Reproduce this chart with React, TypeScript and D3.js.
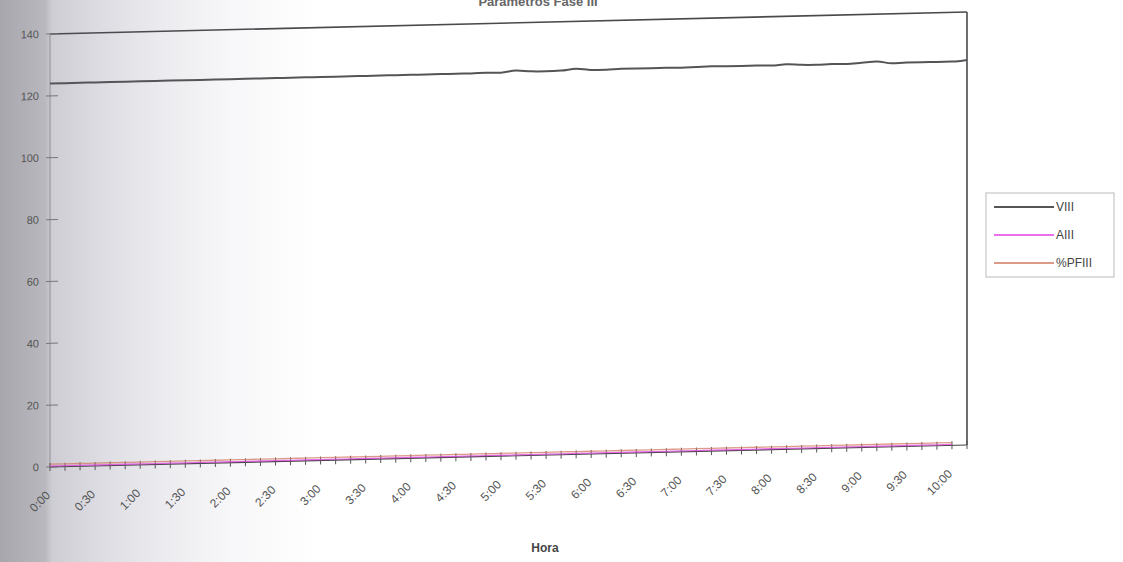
import React from "react";
import * as d3 from "d3";

const timeLabels = [
  "0:00", "0:30", "1:00", "1:30", "2:00", "2:30", "3:00", "3:30", "4:00", "4:30",
  "5:00", "5:30", "6:00", "6:30", "7:00", "7:30", "8:00", "8:30", "9:00", "9:30", "10:00",
];

// readings every 10 minutes, 0:00 .. 10:00 (61 points)
const viii = [
  124.0, 124.0, 124.0, 124.0, 124.0, 124.0, 124.0, 124.0, 124.0, 124.0, 124.0,
  124.0, 124.0, 124.0, 124.0, 124.0, 124.0, 124.0, 124.0, 124.0, 124.0,
  124.0, 124.0, 124.0, 124.0, 124.0, 124.0, 124.0, 124.0, 124.1, 124.0,
  124.6, 124.2, 124.1, 124.2, 124.7, 124.2, 124.1, 124.3, 124.3, 124.3,
  124.3, 124.2, 124.3, 124.4, 124.3, 124.3, 124.3, 124.2, 124.5, 124.2,
  124.1, 124.2, 124.1, 124.4, 124.7, 124.0, 124.1, 124.1, 124.1, 124.1, 124.5,
];
const aiii = [
  0.3, 0.3, 0.3, 0.3, 0.3, 0.3, 0.3, 0.3, 0.3, 0.3, 0.3,
  0.3, 0.3, 0.3, 0.3, 0.3, 0.3, 0.3, 0.3, 0.3, 0.3,
  0.3, 0.3, 0.3, 0.3, 0.3, 0.3, 0.3, 0.3, 0.3, 0.3,
  0.3, 0.3, 0.3, 0.3, 0.3, 0.3, 0.3, 0.3, 0.3, 0.3,
  0.3, 0.3, 0.3, 0.3, 0.3, 0.3, 0.3, 0.3, 0.3, 0.3,
  0.3, 0.3, 0.3, 0.3, 0.3, 0.3, 0.3, 0.3, 0.3, 0.3,
];
const pfiii = [
  0.9, 0.9, 0.9, 0.9, 0.9, 0.9, 0.9, 0.9, 0.9, 0.9, 0.9,
  0.9, 0.9, 0.9, 0.9, 0.9, 0.9, 0.9, 0.9, 0.9, 0.9,
  0.9, 0.9, 0.9, 0.9, 0.9, 0.9, 0.9, 0.9, 0.9, 0.9,
  0.9, 0.9, 0.9, 0.9, 0.9, 0.9, 0.9, 0.9, 0.9, 0.9,
  0.9, 0.9, 0.9, 0.9, 0.9, 0.9, 0.9, 0.9, 0.9, 0.9,
  0.9, 0.9, 0.9, 0.9, 0.9, 0.9, 0.9, 0.9, 0.9, 0.9,
];
const yTicks = [0, 20, 40, 60, 80, 100, 120, 140];
const seriesNames = ["VIII", "AIII", "%PFIII"];
const seriesColors = ["#555558", "#e040e0", "#d07a60"];

const W = 1123;
const H = 562;
const X0 = 50;
const X1 = 967;
const Y0 = 34;
const Y1 = 467;
const K = 0.024; // photo skew

export default function App() {
  const n = viii.length;
  const x = d3.scaleLinear().domain([0, n - 1]).range([X0, X1]);
  const y = d3.scaleLinear().domain([0, 140]).range([Y1, Y0]);
  const line = d3
    .line<number>()
    .x((_, i) => x(i))
    .y((d) => y(d))
    .curve(d3.curveMonotoneX);
  const series = [viii, aiii, pfiii];
  const font = "'Liberation Sans', Arial, sans-serif";

  return (
    <div>
      <style>{"body{margin:0;overflow:hidden}"}</style>
      <svg width={W} height={H} style={{ display: "block" }}>
        <defs>
          <linearGradient id="shade" gradientUnits="userSpaceOnUse" x1={0} y1={0} x2={W} y2={0}>
            <stop offset={0} stopColor="#a6a6ac" />
            <stop offset={45 / W} stopColor="#b8b8be" />
            <stop offset={52 / W} stopColor="#cdcdd3" />
            <stop offset={100 / W} stopColor="#dcdce2" />
            <stop offset={160 / W} stopColor="#ebebef" />
            <stop offset={230 / W} stopColor="#f7f7f9" />
            <stop offset={320 / W} stopColor="#ffffff" />
            <stop offset={1} stopColor="#ffffff" />
          </linearGradient>
        </defs>
        <rect x={0} y={0} width={W} height={H} fill="url(#shade)" />

        <text x={538} y={6} textAnchor="middle" fontFamily={font} fontSize={13} fontWeight="bold" fill="#666">
          Parámetros Fase III
        </text>

        <g transform={`matrix(1,${-K},0,1,0,${K * X0})`}>
          {/* plot border */}
          <line x1={X0} x2={X1} y1={Y0} y2={Y0} stroke="#4a4a4e" strokeWidth={1.6} />
          <line x1={X1} x2={X1} y1={Y0} y2={Y1} stroke="#4a4a4e" strokeWidth={1.6} />
          <line x1={X0} x2={X0} y1={Y0} y2={Y1} stroke="#9a9aa0" strokeWidth={1.2} />

          {/* y axis */}
          {yTicks.map((t) => (
            <g key={t}>
              <line x1={X0 - 4} x2={X0 + 8} y1={y(t)} y2={y(t)} stroke="#777" strokeWidth={1} />
              <text x={39} y={y(t)} dy="0.35em" textAnchor="end" fontFamily={font} fontSize={11} fill="#555">
                {t}
              </text>
            </g>
          ))}

          {/* x axis */}
          <line x1={X0} x2={X1} y1={Y1} y2={Y1} stroke="#444" strokeWidth={1.2} />
          {d3.range(n).map((i) => (
            <line key={i} x1={x(i)} x2={x(i)} y1={Y1 - 4} y2={Y1 + 4} stroke="#555" strokeWidth={1} />
          ))}
          {timeLabels.map((lab, j) => (
            <text
              key={lab}
              transform={`translate(${x(j * 3) - 2},${Y1 + 26}) rotate(-45)`}
              textAnchor="end"
              dy="0.35em"
              fontFamily={font}
              fontSize={12}
              fill="#555"
            >
              {lab}
            </text>
          ))}

          {/* series */}
          {series.map((s, k) => (
            <path
              key={k}
              d={line(s) || ""}
              fill="none"
              stroke={seriesColors[k]}
              strokeWidth={k === 0 ? 2 : 1.3}
              strokeOpacity={k === 0 ? 1 : 0.75}
            />
          ))}
        </g>

        <text x={545} y={552} textAnchor="middle" fontFamily={font} fontSize={12} fontWeight="bold" fill="#444">
          Hora
        </text>

        {/* legend */}
        <g>
          <rect x={986} y={193} width={128} height={84} fill="#fff" stroke="#bbb" strokeWidth={1} />
          {seriesNames.map((nm, k) => (
            <g key={nm} transform={`translate(0,${207 + k * 28})`}>
              <line x1={994} x2={1054} y1={0} y2={0} stroke={seriesColors[k]} strokeWidth={k === 0 ? 2 : 1.5} />
              <text x={1056} y={0} dy="0.35em" fontFamily={font} fontSize={12} fill="#444">
                {nm}
              </text>
            </g>
          ))}
        </g>
      </svg>
    </div>
  );
}
